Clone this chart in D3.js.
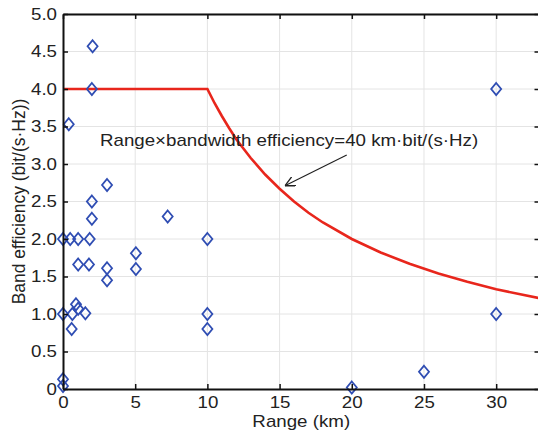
<html>
<head>
<style>
  body { margin: 0; background: #fff; }
  svg { font-family: "Liberation Sans", Arial, Helvetica, sans-serif; display: block; }
  .grid line { stroke: #e4e4e4; stroke-width: 1; }
</style>
<script src="https://cdn.jsdelivr.net/npm/d3@7"></script>
</head>
<body>
<svg id="chart"></svg>
<script>
var width = 538, height = 432;
var margin = {top: 14, left: 63, bottom: 43};
var stretch = 1.17; // the source figure's text is a bit wider than plain Arial

// measured systems: range (km) vs band efficiency (bit/(s·Hz))
var rangeKm = [2.05, 2, 0.4, 3.05, 2, 2, 0, 0.5, 1.05, 1.85, 1.05, 1.8, 3.05, 3.05, 5.05, 5.05, 7.25,
               0.9, 1.05, 0.65, 0, 1.55, 0.6, 0, 0, 10, 10, 10, 20, 25, 30, 30];
var efficiency = [4.57, 4.0, 3.53, 2.72, 2.5, 2.27, 2.0, 2.0, 2.0, 2.0, 1.66, 1.66, 1.61, 1.45, 1.81, 1.6, 2.3,
                  1.13, 1.07, 1.0, 1.0, 1.01, 0.8, 0.13, 0.04, 2.0, 1.0, 0.8, 0.02, 0.23, 1.0, 4.0];

// bound: range x efficiency = 40 km·bit/(s·Hz), capped at 4
var boundKm  = [0, 10, 10.5, 11, 11.5, 12, 13, 14, 15, 16, 17, 18, 20, 22, 24, 26, 28, 30, 33];
var boundEff = [4, 4, 3.81, 3.64, 3.48, 3.33, 3.08, 2.86, 2.67, 2.5, 2.35, 2.22, 2.0, 1.82, 1.67, 1.54, 1.43, 1.33, 1.21];

var xTicks = [0, 5, 10, 15, 20, 25, 30];
var yTicks = [0, 0.5, 1.0, 1.5, 2.0, 2.5, 3.0, 3.5, 4.0, 4.5, 5.0];

var annotation = "Range×bandwidth efficiency=40 km·bit/(s·Hz)";

var x = d3.scaleLinear().domain([0, 33]).range([margin.left, margin.left + 476.5]);
var y = d3.scaleLinear().domain([0, 5]).range([height - margin.bottom, margin.top]);

var svg = d3.select("#chart").attr("width", width).attr("height", height);
var x0 = x.range()[0], x1 = x.range()[1], y0 = y.range()[0], y1 = y.range()[1];

// widen text horizontally around x = 0 of its own frame
function widen(sel) {
  sel.each(function() {
    var t = d3.select(this);
    var tx = +(t.attr("x") || 0);
    t.attr("x", tx / stretch).attr("transform", "scale(" + stretch + ",1)");
  });
}

// grid
var grid = svg.append("g").attr("class", "grid");
grid.selectAll(".gx").data(xTicks.slice(1)).enter().append("line")
  .attr("x1", d => x(d)).attr("x2", d => x(d)).attr("y1", y0).attr("y2", y1);
grid.selectAll(".gy").data(yTicks.slice(1)).enter().append("line")
  .attr("x1", x0).attr("x2", x1).attr("y1", d => y(d)).attr("y2", d => y(d));

// bound curve
svg.append("path")
  .datum(boundKm.map((d, i) => [d, boundEff[i]]))
  .attr("fill", "none").attr("stroke", "#e8261c").attr("stroke-width", 2.6)
  .attr("d", d3.line().x(d => x(d[0])).y(d => y(d[1])));

// diamonds
svg.append("g").selectAll("path").data(rangeKm).enter().append("path")
  .attr("d", (d, i) => {
    var cx = x(d), cy = y(efficiency[i]);
    return "M" + cx + "," + (cy - 6) + "L" + (cx + 5) + "," + cy + "L" + cx + "," + (cy + 6) + "L" + (cx - 5) + "," + cy + "Z";
  })
  .attr("fill", "none").attr("stroke", "#2f4db3").attr("stroke-width", 1.8);

// axes (MATLAB-like box with inward ticks)
var xAxis = svg.append("g").attr("transform", "translate(0," + y0 + ")")
  .call(d3.axisBottom(x).tickValues(xTicks).tickSizeInner(-5).tickSizeOuter(0).tickPadding(8).tickFormat(d3.format("d")));
var yAxis = svg.append("g").attr("transform", "translate(" + x0 + ",0)")
  .call(d3.axisLeft(y).tickValues(yTicks).tickSizeInner(-5).tickSizeOuter(0).tickPadding(6)
    .tickFormat(d => d === 0 ? "0" : d3.format(".1f")(d)));
var xTop = svg.append("g").attr("transform", "translate(0," + y1 + ")")
  .call(d3.axisTop(x).tickValues(xTicks).tickSizeInner(-5).tickSizeOuter(0).tickFormat(""));
var yRight = svg.append("g").attr("transform", "translate(" + x1 + ",0)")
  .call(d3.axisRight(y).tickValues(yTicks).tickSizeInner(-5).tickSizeOuter(0).tickFormat(""));

[xAxis, yAxis, xTop, yRight].forEach(g => {
  g.select(".domain").attr("stroke", "#111").attr("stroke-width", 2);
  g.selectAll(".tick line").attr("stroke", "#111").attr("stroke-width", 1.5);
  g.selectAll("text").attr("font-family", null).attr("font-size", 16).attr("fill", "#222");
});
widen(xAxis.selectAll("text"));
widen(yAxis.selectAll("text"));

// labels
svg.append("text").attr("x", (x0 + x1) / 2).attr("y", 427)
  .attr("text-anchor", "middle").attr("font-size", 16).attr("fill", "#222").text("Range (km)")
  .call(widen);
svg.append("text").attr("transform", "translate(25," + ((y0 + y1) / 2) + ") scale(1.08,1) rotate(-90)")
  .attr("text-anchor", "middle").attr("font-size", 17.5).attr("fill", "#222").text("Band efficiency (bit/(s·Hz))");

// annotation
svg.append("text").attr("x", x(2.56)).attr("y", y(3.24))
  .attr("font-size", 16).attr("fill", "#222").text(annotation)
  .call(widen);

svg.append("defs").append("marker").attr("id", "arr")
  .attr("viewBox", "0 0 10 10").attr("refX", 10).attr("refY", 5)
  .attr("markerWidth", 10).attr("markerHeight", 10).attr("markerUnits", "userSpaceOnUse").attr("orient", "auto")
  .append("path").attr("d", "M0,0L10,5L0,10").attr("fill", "none").attr("stroke", "#222").attr("stroke-width", 1.3);
svg.append("line")
  .attr("x1", x(19.65)).attr("y1", y(3.12)).attr("x2", x(15.37)).attr("y2", y(2.71))
  .attr("stroke", "#222").attr("stroke-width", 1.2).attr("marker-end", "url(#arr)");
</script>
</body>
</html>
